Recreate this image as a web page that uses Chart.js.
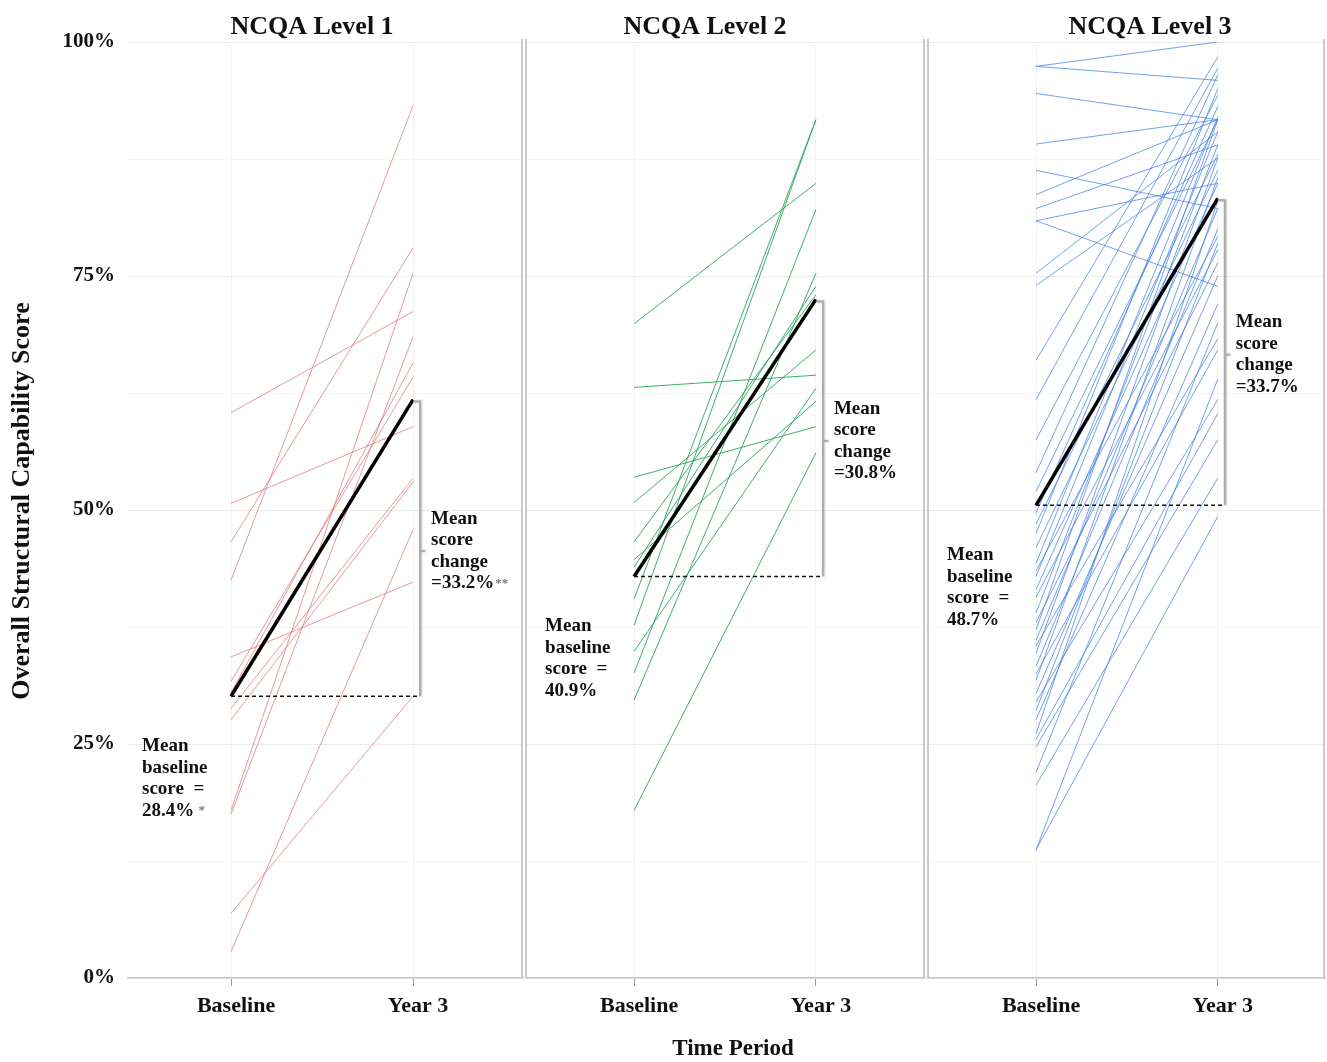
<!DOCTYPE html>
<html>
<head>
<meta charset="utf-8">
<title>Structural capability by NCQA level</title>
<script src="https://cdn.jsdelivr.net/npm/chart.js@4.4.1/dist/chart.umd.min.js"></script>
<style>
  body { margin: 0; background: #fff; }
  #wrap { position: relative; width: 1327px; height: 1062px; }
  #wrap canvas { position: absolute; top: 0; }
  .axis-title {
    position: absolute; top: 1035px; left: 633px; width: 200px; text-align: center;
    font: bold 23px "Liberation Serif", "Times New Roman", serif; color: #111;
  }
</style>
</head>
<body>
<div id="wrap">
  <canvas id="panel1" width="525" height="1062" style="left:0"></canvas>
  <canvas id="panel2" width="402" height="1062" style="left:525px"></canvas>
  <canvas id="panel3" width="400" height="1062" style="left:927px"></canvas>
  <div class="axis-title">Time Period</div>
</div>
<script>
// Scores (%): one line per practice, baseline -> year 3
const timeLabels = ['Baseline', 'Year 3'];
const panelTitles = ['NCQA Level 1', 'NCQA Level 2', 'NCQA Level 3'];

const level1Baseline = [60.4, 50.7, 46.6, 42.5, 34.3, 31.7, 30.5, 28.8, 27.6, 17.9, 17.5, 6.9, 2.8];
const level1Year3    = [71.2, 58.9, 78.0, 93.2, 42.3, 64.2, 65.7, 53.4, 53.0, 75.3, 68.5, 30.1, 47.9];

const level2Baseline = [69.9, 63.1, 53.5, 50.8, 46.6, 44.7, 43.9, 40.5, 37.7, 34.9, 32.6, 29.7, 17.9];
const level2Year3    = [84.9, 64.4, 58.9, 67.1, 73.0, 61.6, 73.9, 91.7, 91.7, 63.0, 82.1, 75.3, 56.1];

const level3Baseline = [97.4, 97.4, 94.5, 89.1, 86.3, 83.7, 82.2, 80.9, 80.9, 75.3, 74.0, 66.0, 61.8,
                        57.5, 54.0, 52.0, 49.7, 48.5, 47.5, 46.0, 44.3, 43.5, 42.9,
                        41.5, 40.7, 39.0, 38.0, 37.2, 36.1, 35.5, 34.7, 33.3, 32.5,
                        31.8, 30.4, 29.5, 28.6, 27.6, 26.1, 25.5, 24.7, 22.0, 20.6, 13.7, 13.7];
const level3Year3    = [100.0, 95.9, 91.7, 91.7, 82.2, 91.7, 89.0, 73.9, 84.9, 90.4, 87.6, 98.4, 97.2,
                        94.3, 96.5, 91.7, 93.1, 88.0, 95.0, 86.3, 92.0, 79.2, 90.4,
                        84.9, 77.8, 89.0, 76.4, 91.7, 82.2, 68.3, 87.6, 80.0, 67.1,
                        85.5, 75.0, 61.8, 78.5, 72.0, 83.0, 60.3, 57.5, 70.0, 53.4, 49.3, 64.0];

// Mean lines (black) and their annotations
const meanBaseline = [30.1, 42.9, 50.5];
const meanYear3    = [61.8, 72.5, 83.3];
const baselineNotes = ['28.4%', '40.9%', '48.7%'];
const baselineMarks = [' *', '', ''];
const changeNotes   = ['=33.2%', '=30.8%', '=33.7%'];
const changeMarks   = ['**', '', ''];

const yTicks = [0, 25, 50, 75, 100];

const FONT = '"Liberation Serif", "Times New Roman", serif';

// Layout of the three facets (page pixels / axis ranges)
const facets = [
    { canvas: 'panel1', baseline: level1Baseline, year3: level1Year3, color: 'rgba(222, 110, 110, 0.7)',
      xMin: -0.566, xMax: 1.604, titleX: 312, showY: true, leftBorder: false },
    { canvas: 'panel2', baseline: level2Baseline, year3: level2Year3, color: 'rgba(30, 160, 80, 0.85)',
      xMin: -0.6, xMax: 1.6, titleX: 180, showY: false, leftBorder: true },
    { canvas: 'panel3', baseline: level3Baseline, year3: level3Year3, color: 'rgba(70, 130, 225, 0.75)',
      xMin: -0.6, xMax: 1.59, titleX: 223, showY: false, leftBorder: true }
];

function drawNote(ctx, lines, x, yFirst, lineHeight, mark) {
    ctx.font = `bold 19px ${FONT}`;
    ctx.fillStyle = '#111';
    ctx.textAlign = 'left';
    ctx.textBaseline = 'middle';
    lines.forEach((text, i) => ctx.fillText(text, x, yFirst + i * lineHeight));
    if (mark) {
        const last = lines[lines.length - 1];
        const w = ctx.measureText(last).width;
        ctx.font = `bold 13px ${FONT}`;
        ctx.fillStyle = '#777';
        ctx.fillText(mark, x + w + 1, yFirst + (lines.length - 1) * lineHeight);
    }
}

const facetDecor = {
    id: 'facetDecor',
    beforeDatasetsDraw(chart, args, o) {
        const { ctx, chartArea: a } = chart;
        ctx.save();
        ctx.strokeStyle = '#cbcbcb';
        ctx.lineWidth = 2;
        ctx.beginPath();
        ctx.moveTo(a.right - 1, a.top - 3);
        ctx.lineTo(a.right - 1, a.bottom);
        if (o.leftBorder) {
            ctx.moveTo(a.left + 1, a.top - 3);
            ctx.lineTo(a.left + 1, a.bottom);
        }
        ctx.stroke();
        ctx.restore();
    },
    afterDatasetsDraw(chart, args, o) {
        const { ctx, scales: { x, y } } = chart;
        const x0 = x.getPixelForValue(0);
        const x1 = x.getPixelForValue(1);
        const yb = y.getPixelForValue(o.meanB);
        const ye = y.getPixelForValue(o.meanE);
        const bx = x1 + 7;
        const mid = (yb + ye) / 2;

        ctx.save();
        // bracket showing the mean change
        ctx.shadowColor = 'rgba(0,0,0,0.25)';
        ctx.shadowBlur = 2;
        ctx.shadowOffsetX = 1;
        ctx.strokeStyle = '#ababab';
        ctx.lineWidth = 2;
        ctx.beginPath();
        ctx.moveTo(x1, ye + 2);
        ctx.lineTo(bx, ye + 2);
        ctx.lineTo(bx, yb);
        ctx.moveTo(bx, mid + 3);
        ctx.lineTo(bx + 5, mid + 3);
        ctx.stroke();
        ctx.shadowColor = 'transparent';

        // dashed mean baseline
        ctx.setLineDash([4, 3]);
        ctx.strokeStyle = '#111';
        ctx.lineWidth = 1.5;
        ctx.beginPath();
        ctx.moveTo(x0, yb);
        ctx.lineTo(bx, yb);
        ctx.stroke();
        ctx.setLineDash([]);

        const lh = 21.5;
        drawNote(ctx, ['Mean', 'score', 'change', o.changeNote], x1 + 18, mid + 3 - 1.5 * lh, lh, o.changeMark);
        drawNote(ctx, ['Mean', 'baseline', 'score  =', o.baseNote], x0 - 89, yb + 50, lh, o.baseMark);
        ctx.restore();
    },
    afterDraw(chart, args, o) {
        const { ctx } = chart;
        ctx.save();
        ctx.fillStyle = '#111';
        ctx.font = `bold 26px ${FONT}`;
        ctx.textAlign = 'center';
        ctx.textBaseline = 'alphabetic';
        ctx.fillText(o.title, o.titleX, 34);
        if (o.yTitle) {
            ctx.translate(22, 501);
            ctx.rotate(-Math.PI / 2);
            ctx.textBaseline = 'middle';
            ctx.font = `bold 26px ${FONT}`;
            ctx.fillText(o.yTitle, 0, 0);
        }
        ctx.restore();
    }
};

function buildDatasets(base, end, color, meanB, meanE) {
    const sets = base.map((b, i) => ({
        data: [{ x: 0, y: b }, { x: 1, y: end[i] }],
        borderColor: color,
        borderWidth: 1,
        pointRadius: 0,
        order: 1
    }));
    sets.push({
        data: [{ x: 0, y: meanB }, { x: 1, y: meanE }],
        borderColor: '#000',
        borderWidth: 3.5,
        pointRadius: 0,
        order: 0
    });
    return sets;
}

facets.forEach((f, i) => {
    const ctx = document.getElementById(f.canvas);
    new Chart(ctx, {
        type: 'line',
        data: { datasets: buildDatasets(f.baseline, f.year3, f.color, meanBaseline[i], meanYear3[i]) },
        plugins: [facetDecor],
        options: {
            responsive: false,
            animation: false,
            layout: { padding: { top: 42, right: 2, left: 0, bottom: 0 } },
            plugins: {
                legend: { display: false },
                tooltip: { enabled: false },
                facetDecor: {
                    title: panelTitles[i],
                    titleX: f.titleX,
                    yTitle: f.showY ? 'Overall Structural Capability Score' : null,
                    leftBorder: f.leftBorder,
                    meanB: meanBaseline[i],
                    meanE: meanYear3[i],
                    baseNote: baselineNotes[i],
                    baseMark: baselineMarks[i],
                    changeNote: changeNotes[i],
                    changeMark: changeMarks[i]
                }
            },
            scales: {
                x: {
                    type: 'linear',
                    min: f.xMin,
                    max: f.xMax,
                    afterBuildTicks: scale => { scale.ticks = timeLabels.map((_, k) => ({ value: k })); },
                    afterFit: scale => { scale.height = 84; },
                    ticks: {
                        callback: value => timeLabels[value],
                        color: '#111',
                        font: { family: FONT, size: 22, weight: 'bold' },
                        padding: 7,
                        labelOffset: 5,
                        maxRotation: 0
                    },
                    grid: { color: '#f1f1f1', tickColor: '#9a9a9a', tickLength: 8 },
                    border: { color: '#c6c6c6', width: 1.5 }
                },
                y: {
                    min: 0,
                    max: 100,
                    afterBuildTicks: scale => {
                        const t = [];
                        for (let v = 0; v <= 100; v += 12.5) t.push({ value: v });
                        scale.ticks = t;
                    },
                    afterFit: scale => { scale.width = f.showY ? 128 : 0; },
                    ticks: {
                        display: f.showY,
                        callback: value => (yTicks.includes(value) ? value + '%' : ''),
                        color: '#111',
                        font: { family: FONT, size: 21, weight: 'bold' },
                        padding: 13
                    },
                    grid: {
                        drawTicks: false,
                        color: c => (yTicks.includes(c.tick.value) ? '#ebebeb' : '#f6f6f6')
                    },
                    border: { display: false }
                }
            }
        }
    });
});
</script>
</body>
</html>
